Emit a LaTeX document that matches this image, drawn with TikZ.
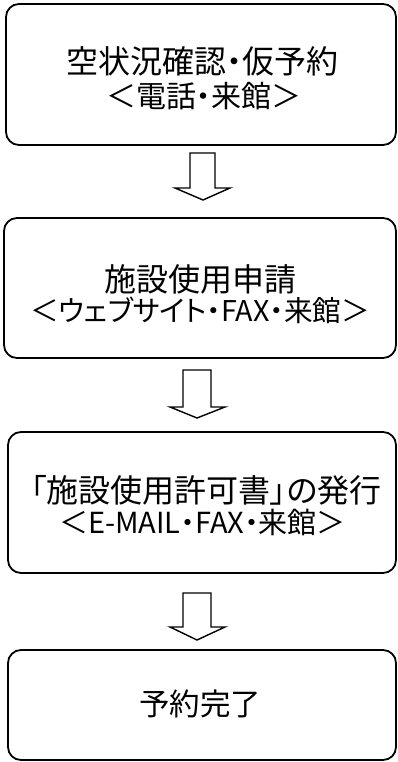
\documentclass[tikz,border=0pt]{standalone}
\usepackage{fontspec}
\newfontfamily\jp[RawFeature=+palt]{Noto Sans CJK JP}
\begin{document}
\begin{tikzpicture}[x=1pt,y=-1pt,
  box/.style={draw=black,line width=1.8pt,rounded corners=13pt},
  txt/.style={inner sep=0pt,anchor=base},
  big/.style={txt,font=\jp\fontsize{32}{32}\selectfont},
  small/.style={txt,font=\jp\fontsize{30}{30}\selectfont},
  hollow/.style={draw=black,line width=1.4pt,fill=white,line join=miter}]
\useasboundingbox (0,0) rectangle (398,762);
% boxes
\draw[box] (6,4) rectangle (396,145);
\node[inner sep=0pt] (b1) at (201,74.5) {};
\draw[box] (4,218) rectangle (396,358);
\node[inner sep=0pt] (b2) at (200,288) {};
\draw[box] (8,432) rectangle (396,573);
\node[inner sep=0pt] (b3) at (202,502.5) {};
\draw[box] (8,650) rectangle (396,760);
\node[inner sep=0pt] (b4) at (202,705) {};
% texts
\node[big]   (t1a) at (202.5,74)  {空状況確認・仮予約};
\node[small] (t1b) at (203.5,108) {＜電話・来館＞};
\node[big]   (t2a) at (200,291)   {施設使用申請};
\node[small,font=\jp\fontsize{28.6}{28.6}\selectfont] (t2b) at (200,321) {＜ウェブサイト・FAX・来館＞};
\node[big]   (t3a) at (206,502)   {「施設使用許可書」の発行};
\node[small,font=\jp\fontsize{29}{29}\selectfont] (t3b) at (202.5,533) {＜E-MAIL・FAX・来館＞};
\node[big,font=\jp\fontsize{30.5}{30.5}\selectfont] (t4) at (200,715) {予約完了};
% hollow arrows
\coordinate (a1) at (203,200);
\draw[hollow] (190,153) -- (215,153) -- (215,188) -- (230,188) -- (a1) -- (175,188) -- (190,188) -- cycle;
\coordinate (a2) at (197,418);
\draw[hollow] (183,370) -- (211,370) -- (211,407) -- (225,407) -- (a2) -- (170,407) -- (183,407) -- cycle;
\coordinate (a3) at (197,640);
\draw[hollow] (183,593) -- (211,593) -- (211,627) -- (225,627) -- (a3) -- (170,627) -- (183,627) -- cycle;
\end{tikzpicture}
\end{document}
